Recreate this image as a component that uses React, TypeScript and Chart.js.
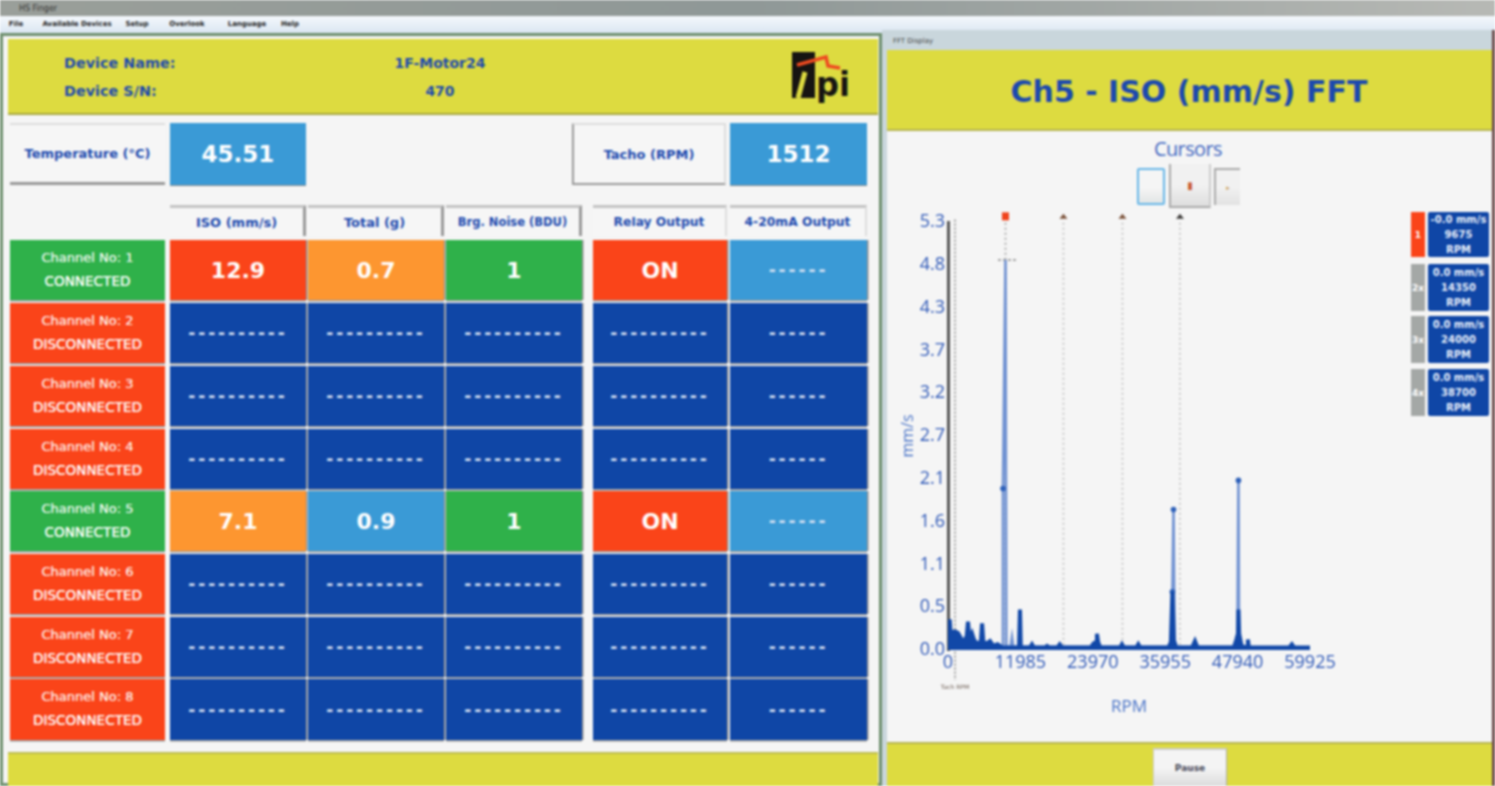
import React, { useEffect, useRef } from "react";
import { Chart, registerables } from "chart.js";

Chart.register(...registerables);

const yTickLabels = ["0.0", "0.5", "1.1", "1.6", "2.1", "2.7", "3.2", "3.7", "4.3", "4.8", "5.3"];
const lightRpm = [8950, 9100, 9515, 9650, 10350, 10590, 10800, 36950, 37150, 37330, 37500, 47900, 48080, 48180];
const lightAmp = [0.04, 2.0, 4.83, 0.04, 0.04, 0.16, 0.04, 0.04, 0.72, 1.74, 0.04, 0.04, 2.1, 0.04];
const darkRpm = [0, 100, 280, 420, 600, 1160, 1655, 2320, 2815, 3100, 3310, 3520, 3800, 4000, 4300, 4600, 5250, 5450, 5640, 5850, 6400, 6950, 7500, 8200, 8605, 9000, 11750, 11915, 12050, 13570, 13900, 14200, 16050, 16400, 16800, 18100, 18500, 18900, 23600, 24100, 24500, 24660, 24850, 25200, 28500, 28800, 29100, 31200, 31500, 31800, 36500, 36900, 37150, 37400, 37800, 40400, 40880, 41300, 47300, 47700, 48000, 48080, 48200, 48600, 49500, 49650, 49800, 56500, 56930, 57300, 59925];
const darkAmp = [0.03, 0.22, 0.38, 0.22, 0.22, 0.23, 0.21, 0.12, 0.13, 0.17, 0.35, 0.17, 0.16, 0.2, 0.13, 0.09, 0.09, 0.11, 0.33, 0.1, 0.08, 0.11, 0.05, 0.07, 0.05, 0.03, 0.03, 0.5, 0.03, 0.03, 0.07, 0.03, 0.03, 0.05, 0.03, 0.03, 0.07, 0.03, 0.03, 0.08, 0.1, 0.2, 0.1, 0.03, 0.03, 0.07, 0.03, 0.03, 0.07, 0.03, 0.03, 0.1, 0.72, 0.12, 0.03, 0.03, 0.11, 0.03, 0.03, 0.12, 0.2, 0.5, 0.2, 0.05, 0.03, 0.13, 0.03, 0.03, 0.07, 0.03, 0.03];
const cursorRpm = [9515, 19115, 28880, 38400];
const tachoRpm = 1160;
const markerAmp = 4.83;
const cursorTopAmp = 5.37;

const channelNames = ["Channel No: 1", "Channel No: 2", "Channel No: 3", "Channel No: 4", "Channel No: 5", "Channel No: 6", "Channel No: 7", "Channel No: 8"];
const channelStates = ["CONNECTED", "DISCONNECTED", "DISCONNECTED", "DISCONNECTED", "CONNECTED", "DISCONNECTED", "DISCONNECTED", "DISCONNECTED"];
const D = "----------";
const S = "------";
const isoValues = ["12.9", D, D, D, "7.1", D, D, D];
const totalValues = ["0.7", D, D, D, "0.9", D, D, D];
const noiseValues = ["1", D, D, D, "1", D, D, D];
const relayValues = ["ON", D, D, D, "ON", D, D, D];
const outputValues = [S, S, S, S, S, S, S, S];
const headers = ["ISO (mm/s)", "Total (g)", "Brg. Noise (BDU)", "Relay Output", "4-20mA Output"];
const menuItems = ["File", "Available Devices", "Setup", "Overlook", "Language", "Help"];
const cursorTags = ["1", "2x", "3x", "4x"];
const cursorValues = ["-0.0 mm/s", "0.0 mm/s", "0.0 mm/s", "0.0 mm/s"];
const cursorReadouts = ["9675", "14350", "24000", "38700"];

const NAVY = "#0f46a6", LIGHT = "#3a9ad6", ORANGE = "#fd9630", RED = "#fa4419", GREEN = "#2fb14a", YELLOW = "#dddb40", INK = "#1c49ae";

const colX: [number, number][] = [[170, 306], [308, 444], [446, 582], [593, 727], [730, 867]];
const rowY: [number, number][] = [[240, 300], [303, 363], [366, 426], [429, 489], [491, 551], [554, 614], [617, 677], [679, 740]];

function Box(p: { x: number; y: number; w: number; h: number; bg?: string; color?: string; size?: number; bold?: boolean; style?: React.CSSProperties; children?: React.ReactNode }) {
  return (
    <div style={{ position: "absolute", left: p.x, top: p.y, width: p.w, height: p.h, background: p.bg, color: p.color ?? INK, fontSize: p.size ?? 14, fontWeight: p.bold === false ? 400 : 700, display: "flex", alignItems: "center", justifyContent: "center", textAlign: "center", whiteSpace: "nowrap", fontFamily: "'DejaVu Sans', sans-serif", boxSizing: "border-box", ...p.style }}>
      {p.children}
    </div>
  );
}

function cellBg(col: number, row: number, v: string) {
  if (v === D || v === S) {
    if (col === 4 && (row === 0 || row === 4)) return LIGHT;
    return NAVY;
  }
  if (col === 0) return row === 0 ? RED : ORANGE;
  if (col === 1) return row === 0 ? ORANGE : LIGHT;
  if (col === 2) return GREEN;
  return RED;
}

const cursorMarkers = {
  id: "cursorMarkers",
  afterDatasetsDraw(chart: any) {
    const { ctx, scales } = chart;
    const y = scales.y.getPixelForValue(cursorTopAmp);
    cursorRpm.forEach((rpm, i) => {
      const x = scales.x.getPixelForValue(rpm);
      ctx.save();
      if (i === 0) {
        ctx.fillStyle = "#f0431c";
        ctx.fillRect(x - 3.5, y - 4, 7, 8);
      } else {
        ctx.fillStyle = i === 3 ? "#3c3a38" : "#7a5038";
        ctx.beginPath();
        ctx.moveTo(x - 4, y + 2.5);
        ctx.lineTo(x, y - 2.5);
        ctx.lineTo(x + 4, y + 2.5);
        ctx.closePath();
        ctx.fill();
      }
      ctx.restore();
    });
  },
};

function Fft() {
  const ref = useRef<HTMLCanvasElement>(null);
  useEffect(() => {
    const cursorSets = cursorRpm.map((x, i) => ({
      type: "line" as const,
      data: [{ x, y: cursorTopAmp - 0.08 }, { x, y: 0 }],
      borderColor: i === 0 ? "#a8a8a8" : "#c6c6c6",
      borderWidth: 1.8,
      borderDash: [2, 3],
      pointRadius: 0,
      clip: false,
      order: 5,
    }));
    const chart = new Chart(ref.current!, {
      type: "scatter",
      plugins: [cursorMarkers],
      data: {
        datasets: [
          {
            type: "line",
            data: darkRpm.map((x, i) => ({ x, y: darkAmp[i] })),
            borderColor: "#1148a8",
            backgroundColor: "#1148a8",
            borderWidth: 4,
            fill: "origin",
            pointRadius: 0,
            order: 1,
          },
          {
            type: "line",
            data: lightRpm.map((x, i) => ({ x, y: lightAmp[i] })),
            borderColor: "#7092d2",
            borderWidth: 2.6,
            pointRadius: (c: any) => ((c.raw?.y ?? 0) > 0.5 && (c.raw?.y ?? 0) < 4 ? 2.8 : 0),
            pointBackgroundColor: "#2c5fb8",
            pointBorderWidth: 0,
            order: 2,
          },
          {
            type: "line",
            data: [{ x: tachoRpm, y: 5.33 }, { x: tachoRpm, y: -0.37 }],
            borderColor: "#9a9a9a",
            borderWidth: 1.8,
            borderDash: [2, 2],
            pointRadius: 0,
            clip: false,
            order: 4,
          },
          {
            type: "line",
            data: [{ x: 8275, y: markerAmp }, { x: 11255, y: markerAmp }],
            borderColor: "#8c8c8c",
            borderWidth: 1.6,
            borderDash: [3, 2],
            pointRadius: 0,
            order: 3,
          },
          ...cursorSets,
        ] as any,
      },
      options: {
        animation: false,
        responsive: false,
        maintainAspectRatio: false,
        layout: { padding: { top: 22, right: 40, left: 0, bottom: 0 } },
        plugins: { legend: { display: false }, tooltip: { enabled: false } },
        scales: {
          x: {
            type: "linear",
            min: 0,
            max: 59925,
            afterFit: (s: any) => { s.height = 80; },
            afterBuildTicks: (s: any) => { s.ticks = [0, 11985, 23970, 35955, 47940, 59925].map((value) => ({ value })); },
            grid: { display: false, drawTicks: false },
            border: { display: false },
            ticks: { color: "#2f59b8", font: { family: "'Open Sans'", size: 18 }, padding: 2, maxRotation: 0, callback: (v: any) => String(v) },
            title: { display: true, text: "RPM", color: "#4a74c8", font: { family: "'Open Sans'", size: 17 }, padding: { top: 7, bottom: 13 } },
          },
          y: {
            type: "linear",
            min: 0,
            max: 5.3,
            afterFit: (s: any) => { s.width = 58; },
            afterBuildTicks: (s: any) => { s.ticks = yTickLabels.map((_, i) => ({ value: (i * 5.3) / 10 })); },
            grid: { display: false, drawTicks: false },
            border: { display: true, color: "#555555", width: 3 },
            ticks: { color: "#2f59b8", font: { family: "'Open Sans'", size: 18 }, padding: 3, callback: (_: any, i: number) => yTickLabels[i] },
            title: { display: true, text: "mm/s", color: "#4a74c8", font: { family: "'Open Sans'", size: 16 }, padding: { top: 9, bottom: 0 } },
          },
        },
      },
    });
    return () => chart.destroy();
  }, []);
  return <canvas ref={ref} width={460} height={530} style={{ position: "absolute", left: 890, top: 200, width: 460, height: 530 }} />;
}

function Logo() {
  return (
    <svg width={70} height={60} style={{ position: "absolute", left: 786, top: 46 }}>
      <rect x={6} y={6} width={23} height={46} fill="#161412" />
      <path d="M19 26 L12 52" stroke={YELLOW} strokeWidth={5} fill="none" />
      <path d="M11 19 L40 11 L42 20 L54 22" stroke="#ee4a20" strokeWidth={3.5} fill="none" />
      <text x={30} y={50} fontFamily="'DejaVu Sans'" fontWeight={700} fontSize={34} fill="#161412" textLength={34} lengthAdjust="spacingAndGlyphs">pi</text>
    </svg>
  );
}

export default function App() {
  const valueCols = [isoValues, totalValues, noiseValues, relayValues, outputValues];
  return (
    <div style={{ position: "fixed", left: 0, top: 0, width: 1495, height: 786, overflow: "hidden", background: "#f5f5f5", filter: "blur(0.8px)" }}>
      <div style={{ position: "absolute", left: 0, top: 0, width: 1495, height: 16, background: "linear-gradient(90deg,#9a9f9a,#8f9897 50%,#b7b9b5)" }} />
      <Box x={18} y={1} w={40} h={14} size={8} bold={false} color="#333">HS Finger</Box>
      <div style={{ position: "absolute", left: 0, top: 16, width: 1495, height: 17, background: "linear-gradient(#f4f8fc,#dbe6f2)" }} />
      {menuItems.map((m, i) => (
        <Box key={m} x={[8, 40, 122, 165, 222, 280][i]} y={17} w={[16, 74, 30, 44, 50, 20][i]} h={14} size={7} color="#222">{m}</Box>
      ))}
      <div style={{ position: "absolute", left: 0, top: 33, width: 882, height: 753, background: "#f5f5f5", border: "3px solid #6e8f6e", boxSizing: "border-box" }} />
      <div style={{ position: "absolute", left: 8, top: 39, width: 870, height: 76, background: YELLOW, borderBottom: "2px solid #a8a840", boxSizing: "border-box" }} />
      <Box x={64} y={52} w={112} h={22} size={14.4} style={{ justifyContent: "flex-start" }}>Device Name:</Box>
      <Box x={64} y={80} w={112} h={22} size={14.4} style={{ justifyContent: "flex-start" }}>Device S/N:</Box>
      <Box x={370} y={52} w={140} h={22} size={14}>1F-Motor24</Box>
      <Box x={370} y={80} w={140} h={22} size={14}>470</Box>
      <Logo />

      <Box x={10} y={123} w={155} h={62} size={13} style={{ borderTop: "2px solid #ddd", borderBottom: "3px solid #999", background: "#f6f6f6" }}>Temperature (°C)</Box>
      <Box x={170} y={123} w={136} h={62} size={23} bg={LIGHT} color="#fff" style={{ boxShadow: "0 1px 0 #8a8a8a" }}>45.51</Box>
      <Box x={572} y={123} w={154} h={62} size={13} style={{ border: "2px solid #999", borderRightColor: "#ddd", borderTopColor: "#ddd", background: "#f6f6f6" }}>Tacho (RPM)</Box>
      <Box x={730} y={123} w={137} h={62} size={23} bg={LIGHT} color="#fff" style={{ boxShadow: "0 1px 0 #8a8a8a" }}>1512</Box>

      {headers.map((h, i) => (
        <Box key={h} x={colX[i][0]} y={205} w={colX[i][1] - colX[i][0]} h={31} size={i === 2 ? 11.5 : i >= 3 ? 12.3 : 13} style={{ borderTop: "3px solid #c4c4c4", borderRight: i < 3 ? "3px solid #999" : "2px solid #ddd", background: "#f6f6f6" }}>{h}</Box>
      ))}

      {rowY.map(([t, b], r) => (
        <React.Fragment key={r}>
          <Box x={10} y={t} w={155} h={b - t} bg={channelStates[r] === "CONNECTED" ? GREEN : RED} color="#fff" size={13} bold={false} style={{ flexDirection: "column", gap: 8, paddingBottom: 2, boxShadow: "0 1.5px 0 #9a9a9a", textShadow: "0 0 0.6px #fff" }}>
            <div style={{ opacity: 0.9 }}>{channelNames[r]}</div>
            <div style={{ fontSize: 13.6 }}>{channelStates[r]}</div>
          </Box>
          {valueCols.map((vals, c) => {
            const v = vals[r];
            const dash = v === D || v === S;
            return (
              <Box key={c} x={colX[c][0]} y={t} w={colX[c][1] - colX[c][0]} h={b - t} bg={cellBg(c, r, v)} color={dash ? "#dbe4f4" : "#fff"} size={dash ? 17 : 22} style={{ letterSpacing: dash ? 2.9 : 0, boxShadow: "0 1.5px 0 #9a9a9a, 1.5px 0 0 #8d8d8d" }}>
                {v}
              </Box>
            );
          })}
        </React.Fragment>
      ))}
      <div style={{ position: "absolute", left: 8, top: 752, width: 870, height: 34, background: YELLOW, borderTop: "2px solid #bcbc50", boxSizing: "border-box" }} />

      <div style={{ position: "absolute", left: 882, top: 30, width: 613, height: 756, background: "#c9d6dc" }} />
      <div style={{ position: "absolute", left: 887, top: 50, width: 605, height: 736, background: "#f5f5f5" }} />
      <div style={{ position: "absolute", left: 1492, top: 30, width: 3, height: 756, background: "#6b4a4a" }} />
      <Box x={888} y={34} w={50} h={14} size={7} color="#444" bold={false}>FFT Display</Box>
      <div style={{ position: "absolute", left: 887, top: 50, width: 605, height: 81, background: YELLOW, borderBottom: "2px solid #b5b550", boxSizing: "border-box" }} />
      <Box x={1000} y={66} w={378} h={50} size={30}>Ch5 - ISO (mm/s) FFT</Box>
      <Box x={1130} y={136} w={116} h={24} size={20} bold={false} color="#3f66c0" style={{ fontFamily: "'Open Sans'", letterSpacing: -0.6 }}>Cursors</Box>
      <Box x={1137} y={168} w={28} h={37} style={{ border: "2px solid #66b6e8", borderRadius: 2, background: "linear-gradient(#f5f5f5 55%,#e2e6e6)" }} />
      <Box x={1169} y={164} w={42} h={44} size={10} color="#c8582c" style={{ borderLeft: "2px solid #aaa", borderBottom: "2px solid #aaa", borderRight: "2px solid #ccc", background: "linear-gradient(#f1f1f1 50%,#dedede)" }}>▮</Box>
      <Box x={1214} y={168} w={26} h={37} size={7} color="#caa060" style={{ borderTop: "2px solid #aaa", borderLeft: "2px solid #aaa", background: "linear-gradient(#f1f1f1 50%,#e2e2e2)" }}>▸</Box>

      <Fft />
      <Box x={925} y={680} w={60} h={12} size={6} color="#6a5a50" bold={false}>Tach RPM</Box>

      {cursorTags.map((tag, i) => {
        const t = [212, 264, 316, 369][i];
        const h = i === 0 ? 45 : 47;
        return (
          <React.Fragment key={tag}>
            <Box x={1411} y={t} w={14} h={h} size={9} bg={i === 0 ? RED : "#a4a8a6"} color="#fff">{tag}</Box>
            <Box x={1428} y={t} w={61} h={h} bg={NAVY} color="#e6eefa" size={10} bold={false} style={{ flexDirection: "column", lineHeight: "15px", borderRadius: 2, fontWeight: 600 }}>
              <div>{cursorValues[i]}</div>
              <div>{cursorReadouts[i]}</div>
              <div>RPM</div>
            </Box>
          </React.Fragment>
        );
      })}

      <div style={{ position: "absolute", left: 887, top: 742, width: 605, height: 44, background: YELLOW, borderTop: "2px solid #b5b550", boxSizing: "border-box" }} />
      <Box x={1153} y={748} w={74} h={38} size={9} color="#445" style={{ background: "linear-gradient(#f4f4f4 50%,#dcdcdc)", borderTop: "2px solid #ccc", borderLeft: "1px solid #ccc", borderRight: "1px solid #aaa" }}>Pause</Box>
    </div>
  );
}
